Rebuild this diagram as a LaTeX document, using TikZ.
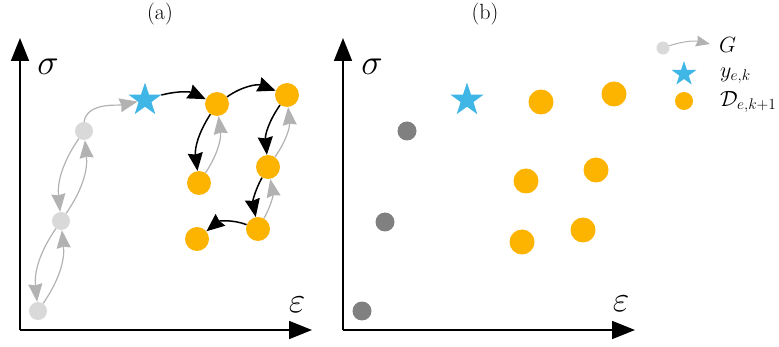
\documentclass[tikz,border=0pt]{standalone}
\usepackage{fix-cm}
\usetikzlibrary{arrows.meta,shapes.geometric}
\definecolor{myorange}{RGB}{252,180,0}
\definecolor{myblue}{RGB}{64,182,230}
\definecolor{lgray}{RGB}{217,217,217}
\definecolor{dgray}{RGB}{128,128,128}
\definecolor{agray}{RGB}{178,178,178}
\tikzset{
  ax/.style={line width=1.8pt,-{Triangle[length=23pt,width=18pt]}},
  blk/.style={line width=1.5pt,black,-{Stealth[length=18pt,width=15pt,inset=1.5pt]}},
  gry/.style={line width=1.2pt,agray,-{Stealth[length=18pt,width=14pt,inset=1.5pt]}},
  odot/.style={circle,fill=myorange,inner sep=0pt,minimum size=24pt},
  ldot/.style={circle,fill=lgray,inner sep=0pt,minimum size=18pt},
  ddot/.style={circle,fill=dgray,inner sep=0pt,minimum size=19pt},
  bstar/.style={star,star points=5,star point ratio=2.6,fill=myblue,inner sep=0pt,minimum size=35pt},
  big/.style={font=\fontsize{36}{40}\selectfont,inner sep=0pt},
  ttl/.style={font=\fontsize{22}{26}\selectfont,inner sep=0pt},
  leg/.style={font=\fontsize{22}{26}\selectfont,inner sep=0pt,anchor=west},
}
\begin{document}
\begin{tikzpicture}[x=1pt,y=-1pt]
\useasboundingbox (0,0) rectangle (779,347);
% ---------- panel (a)
\node[ttl] (ta) at (160,14) {(a)};
\coordinate (oa) at (20,330);
\coordinate (ya) at (20,38);
\coordinate (xa) at (312,330);
\draw[ax] (oa) -- (ya);
\draw[ax] (oa) -- (xa);
\node[big] (sa) at (48,67) {$\sigma$};
\node[big] (ea) at (297,305) {$\varepsilon$};
\node[ldot] (g1) at (38,311) {};
\node[ldot] (g2) at (61,221) {};
\node[ldot] (g3) at (84,131) {};
\node[bstar] (sta) at (145,100) {};
\node[odot] (o1) at (217,104) {};
\node[odot] (o2) at (287,95) {};
\node[odot] (o3) at (199,183) {};
\node[odot] (o4) at (268,167) {};
\node[odot] (o5) at (258,229) {};
\node[odot] (o6) at (197,239) {};
\draw[gry] (g2) to[bend right=20] (g1);
\draw[gry] (g1) to[bend right=20] (g2);
\draw[gry] (g3) to[bend right=20] (g2);
\draw[gry] (g2) to[bend right=20] (g3);
\draw[gry] (g3.north) to[out=80,in=192,looseness=0.9] (sta);
\draw[blk] (sta) to[bend left=20] (o1);
\draw[blk] (o1) to[bend left=28] (o2);
\draw[blk] (o1) to[bend right=20] (o3);
\draw[gry] (o3) to[bend right=20] (o1);
\draw[blk] (o2) to[bend right=20] (o4);
\draw[gry] (o4) to[bend right=20] (o2);
\draw[blk] (o4) to[bend right=20] (o5);
\draw[gry] (o5) to[bend right=20] (o4);
\draw[blk] (o5) to[bend right=30] (o6);
% ---------- panel (b)
\node[ttl] (tb) at (485,14) {(b)};
\coordinate (ob) at (343,330);
\coordinate (yb) at (343,38);
\coordinate (xb) at (635,330);
\draw[ax] (ob) -- (yb);
\draw[ax] (ob) -- (xb);
\node[big] (sb) at (372,67) {$\sigma$};
\node[big] (eb) at (621,304) {$\varepsilon$};
\node[ddot] (d1) at (362,311) {};
\node[ddot] (d2) at (385,222) {};
\node[ddot] (d3) at (407,131) {};
\node[bstar] (stb) at (467,100) {};
\node[odot,minimum size=25pt] (p1) at (541,102) {};
\node[odot,minimum size=25pt] (p2) at (614,94) {};
\node[odot,minimum size=25pt] (p3) at (526,181) {};
\node[odot,minimum size=25pt] (p4) at (596,170) {};
\node[odot,minimum size=25pt] (p5) at (522,242) {};
\node[odot,minimum size=25pt] (p6) at (583,230) {};
% ---------- legend
\node[ldot,minimum size=13pt] (lg) at (663,48) {};
\coordinate (lge) at (710,44);
\draw[gry,line width=1pt,-{Stealth[length=14pt,width=11pt,inset=1.5pt]}] (lg) to[bend left=15] (lge);
\node[leg] (lG) at (719,45) {$G$};
\node[bstar,minimum size=26pt] (lst) at (684,74) {};
\node[leg] (ly) at (720,76) {$y_{e,k}$};
\node[odot,minimum size=18pt] (lo) at (684,101) {};
\node[leg] (lD) at (720,102) {$\mathcal{D}_{e,k+1}$};
\end{tikzpicture}
\end{document}
